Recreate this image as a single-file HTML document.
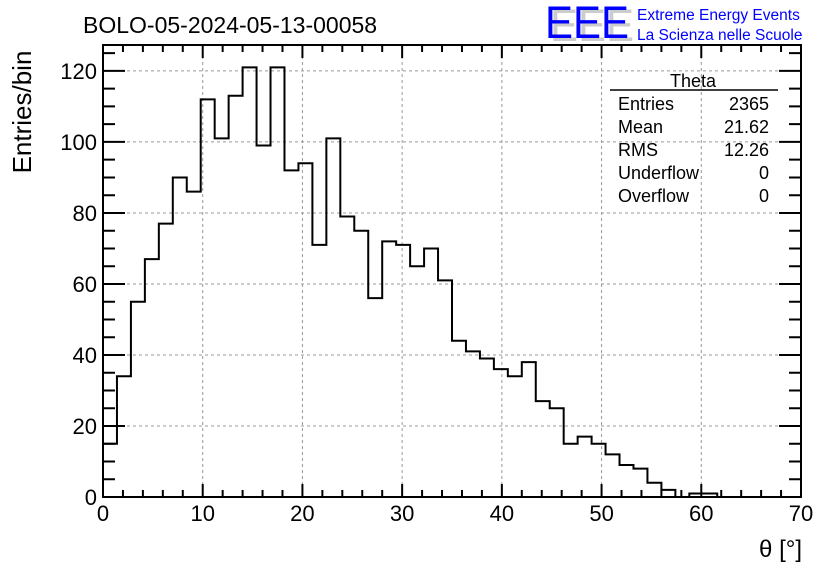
<!DOCTYPE html>
<html><head><meta charset="utf-8"><style>
body{margin:0;background:#fff;}
svg{display:block;font-family:"Liberation Sans",sans-serif;}
</style></head><body>
<svg id="c" width="836" height="572" xmlns="http://www.w3.org/2000/svg">
<text x="83" y="33" font-size="23">BOLO-05-2024-05-13-00058</text>
<g>
<text x="550" y="41" font-size="45" fill="#ccc" textLength="84" lengthAdjust="spacingAndGlyphs">EEE</text>
<text x="545" y="38" font-size="45" fill="#0000ff" textLength="84" lengthAdjust="spacingAndGlyphs">EEE</text>
<text x="637" y="20" font-size="15.5" fill="#0000ff">Extreme Energy Events</text>
<text x="637" y="40" font-size="15.5" fill="#0000ff">La Scienza nelle Scuole</text>
</g>
<g id="grid"></g>
<g id="ticks"></g>
<path id="hist" fill="none" stroke="#000" stroke-width="2"/>
<rect x="103" y="45" width="698" height="452" fill="none" stroke="#000" stroke-width="2"/>
<g id="labels" font-size="22"></g>
<text x="802" y="557" font-size="24" text-anchor="end">θ [°]</text>
<text transform="translate(31,112) rotate(-90)" font-size="26" text-anchor="middle">Entries/bin</text>
<g font-size="18">
<text x="693" y="87" text-anchor="middle">Theta</text>
<line x1="610" y1="90" x2="778" y2="90" stroke="#000" stroke-width="1.5"/>
<text x="618" y="110">Entries</text><text x="769" y="110" text-anchor="end">2365</text>
<text x="618" y="133">Mean</text><text x="769" y="133" text-anchor="end">21.62</text>
<text x="618" y="156">RMS</text><text x="769" y="156" text-anchor="end">12.26</text>
<text x="618" y="179">Underflow</text><text x="769" y="179" text-anchor="end">0</text>
<text x="618" y="202">Overflow</text><text x="769" y="202" text-anchor="end">0</text>
</g>
</svg>
<script>
const counts=[15,34,55,67,77,90,86,112,101,113,121,99,121,92,94,71,101,79,75,56,72,71,65,70,61,44,41,39,36,34,38,27,25,15,17,15,12,9,8,4,2,0,1,1,0,0,0,0,0,0];
const binWidth=1.4;
const xTicks=[0,10,20,30,40,50,60,70];
const yTicks=[0,20,40,60,80,100,120];
const X0=103,X1=801,Y0=497,Y1=45,xmax=70,ymax=127.3;
const sx=v=>X0+(X1-X0)*v/xmax, sy=v=>Y0-(Y0-Y1)*v/ymax;
const NS="http://www.w3.org/2000/svg";
function mk(t,a,p){const e=document.createElementNS(NS,t);for(const k in a)e.setAttribute(k,a[k]);p.appendChild(e);return e;}
const grid=document.getElementById('grid'),ticks=document.getElementById('ticks'),labels=document.getElementById('labels');
xTicks.forEach(v=>{if(v>0&&v<xmax){const l=mk('line',{x1:sx(v),x2:sx(v),y1:Y0,y2:Y1,stroke:'#999','stroke-dasharray':'3,3'},grid);

}
const t=mk('text',{x:sx(v),y:521,'text-anchor':'middle'},labels);t.textContent=v;

});
yTicks.forEach(v=>{if(v>0){const l=mk('line',{x1:X0,x2:X1,y1:sy(v),y2:sy(v),stroke:'#999','stroke-dasharray':'3,3'},grid);

}
const t=mk('text',{x:97,y:sy(v)+8,'text-anchor':'end'},labels);t.textContent=v;

});
let d='';
for(let v=0;v<=xmax;v+=2){const L=v%10===0?13:7;d+=`M${sx(v)},${Y0}v${-L}M${sx(v)},${Y1}v${L}`;}
for(let v=0;v<=125;v+=5){const L=v%20===0?22:12;d+=`M${X0},${sy(v)}h${L}M${X1},${sy(v)}h${-L}`;}
mk('path',{d:d,stroke:'#000','stroke-width':2,fill:'none'},ticks);
let p=`M${sx(0)},${sy(0)}`;
counts.forEach((c,i)=>{p+=`L${sx(i*binWidth)},${sy(c)}L${sx((i+1)*binWidth)},${sy(c)}`;});
p+=`L${sx(counts.length*binWidth)},${sy(0)}`;
document.getElementById('hist').setAttribute('d',p);
</script>
</body></html>
